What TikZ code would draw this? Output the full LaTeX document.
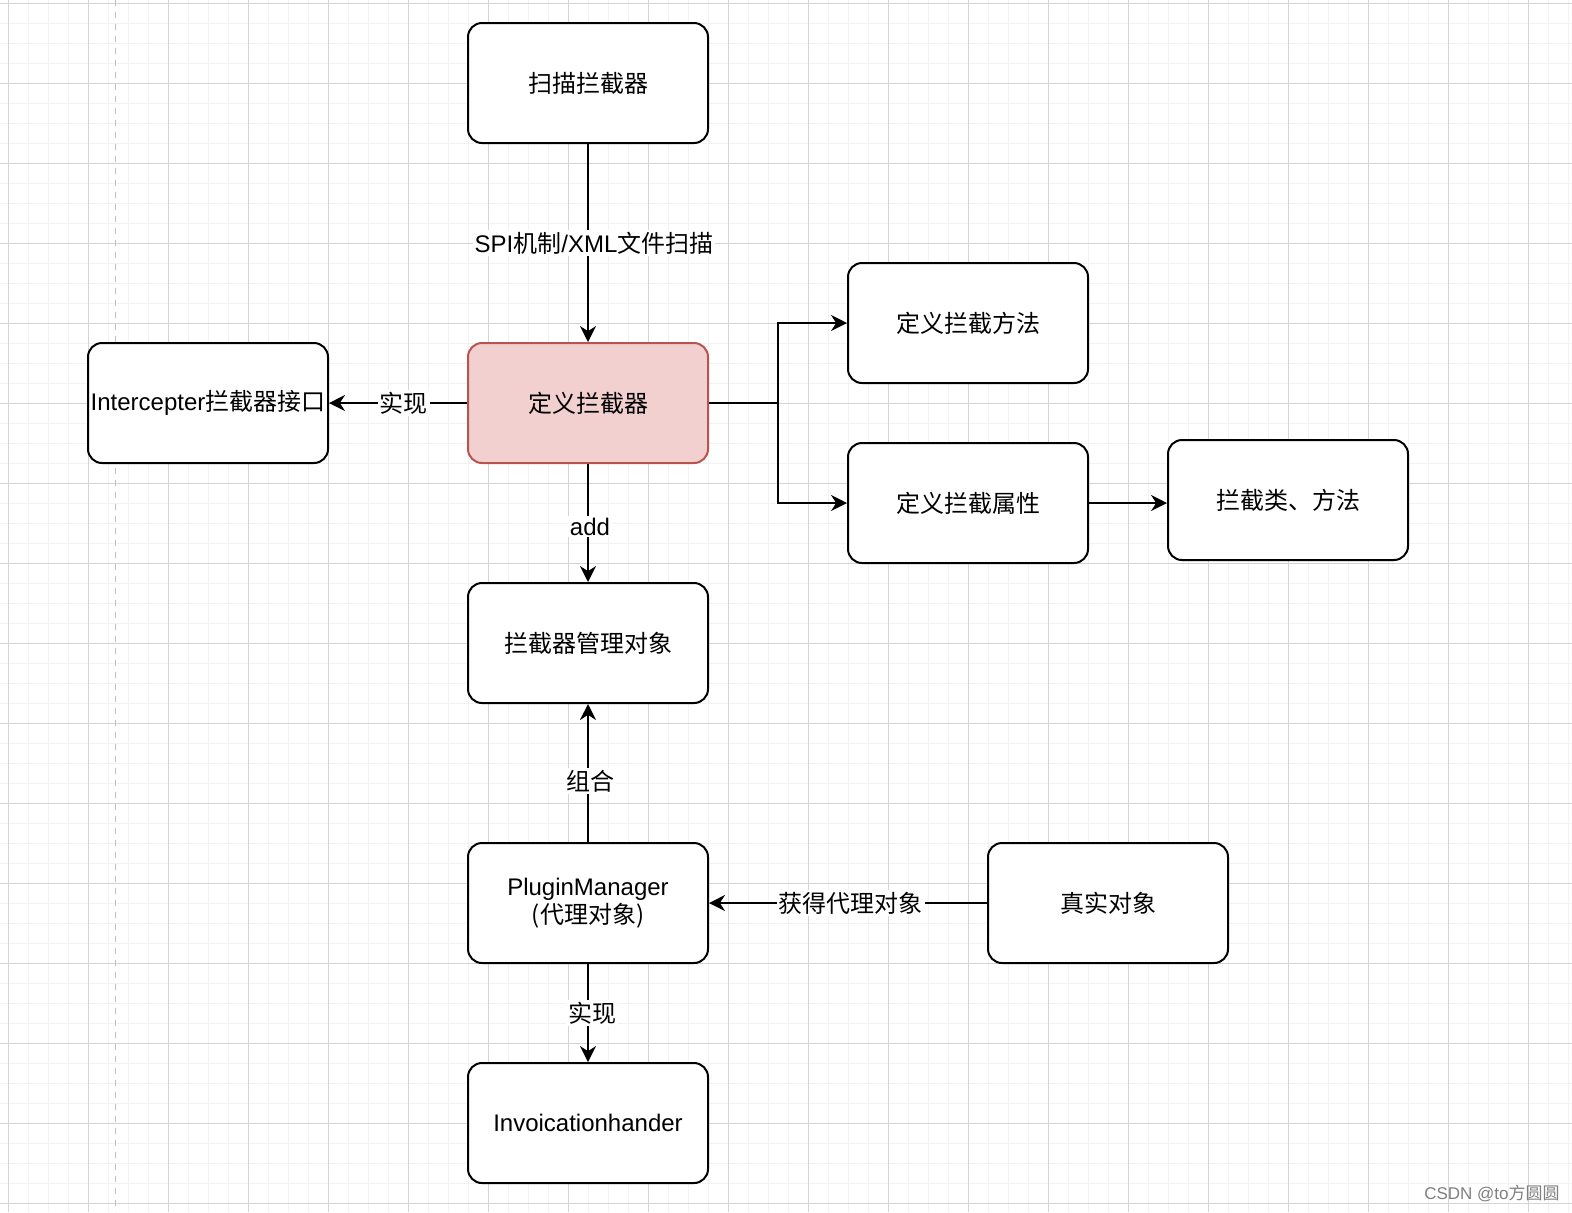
\documentclass[tikz,border=0pt]{standalone}
\usepackage{fontspec}
\setmainfont{Noto Sans CJK SC}
\newfontfamily\lat{Liberation Sans}
\usetikzlibrary{arrows.meta}
\definecolor{pinkfill}{HTML}{F2D0CF}
\definecolor{pinkline}{HTML}{B85450}
\definecolor{gridminor}{HTML}{F2F2F2}
\definecolor{gridmajor}{HTML}{D4D4D4}
\tikzset{
  box/.style={draw, line width=1pt, rounded corners=7pt, fill=white,
    minimum width=120pt, minimum height=60pt, inner sep=1pt, align=center,
    font=\fontsize{12}{14}\selectfont},
  flow/.style={line width=1pt, -{Stealth[length=8pt,width=8pt]}},
  lbl/.style={fill=white, inner sep=1pt, font=\fontsize{12}{14}\selectfont}
}
\begin{document}
\begin{tikzpicture}[x=0.5pt,y=-0.5pt]

  \useasboundingbox (0,0) rectangle (1572,1212);
  \fill[white] (0,0) rectangle (1572,1212);

  % grid
  \foreach \k in {0,...,78} \draw[gridminor, line width=0.5pt] (8+20*\k,0) -- (8+20*\k,1212);
  \foreach \k in {0,...,60} \draw[gridminor, line width=0.5pt] (0,3+20*\k) -- (1572,3+20*\k);
  \foreach \k in {0,...,19} \draw[gridmajor, line width=0.5pt] (8+80*\k,0) -- (8+80*\k,1212);
  \foreach \k in {0,...,15} \draw[gridmajor, line width=0.5pt] (0,3+80*\k) -- (1572,3+80*\k);
  \draw[gray!50, line width=0.5pt, dash pattern=on 3pt off 3pt] (115,0) -- (115,1212);

  % boxes
  \node[box] (scan) at (588,83) {扫描拦截器};
  \node[box, fill=pinkfill, draw=pinkline] (define) at (588,403) {定义拦截器};
  \node[box] (iface) at (208,403) {{\lat Intercepter}拦截器接口};
  \node[box] (method) at (968,323) {定义拦截方法};
  \node[box] (attr) at (968,503) {定义拦截属性};
  \node[box] (target) at (1288,500) {拦截类、方法};
  \node[box] (manager) at (588,643) {拦截器管理对象};
  \node[box] (plugin) at (588,903) {{\lat PluginManager}\\(代理对象)};
  \node[box] (real) at (1108,903) {真实对象};
  \node[box] (handler) at (588,1123) {{\lat Invoicationhander}};

  \coordinate (split) at (778,403);

  % connectors
  \draw[flow] (scan) -- node[lbl, xshift=3pt]{{\lat SPI}机制{\lat /XML}文件扫描} (define);
  \draw[flow] (define) -- node[lbl, pos=0.46]{实现} (iface);
  \draw[flow] (define.east) -- (split) |- (method.west);
  \draw[flow] (split) |- (attr.west);
  \draw[flow] (attr.east) -- (attr.east -| target.west);
  \draw[flow] (define) -- node[lbl, pos=0.53, xshift=1pt]{{\lat add}} (manager);
  \draw[flow] (plugin) -- node[lbl, pos=0.44, xshift=1pt]{组合} (manager);
  \draw[flow] (real) -- node[lbl, pos=0.49]{获得代理对象} (plugin);
  \draw[flow] (plugin) -- node[lbl, xshift=2pt]{实现} (handler);

  \node[gray, font=\fontsize{8.5}{10}\selectfont] (mark) at (1492,1193) {{\lat CSDN @to}方圆圆};

\end{tikzpicture}
\end{document}
